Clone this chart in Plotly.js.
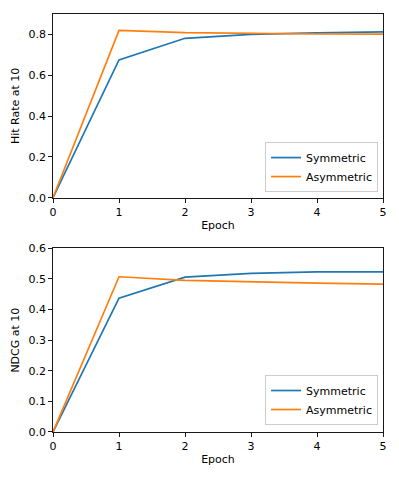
<!DOCTYPE html>
<html>
<head>
<meta charset="utf-8">
<script src="https://cdn.plot.ly/plotly-3.0.1.min.js"></script>
<style>
  html, body { margin: 0; padding: 0; background: #fff; }
  #chart { width: 399px; height: 478px; }
</style>
</head>
<body>
<div id="chart"></div>
<script>
// epochs and metric values
const epochs = [0, 1, 2, 3, 4, 5];
const hitSymmetric = [0, 0.675, 0.781, 0.800, 0.808, 0.812];
const hitAsymmetric = [0, 0.820, 0.809, 0.805, 0.802, 0.801];
const ndcgSymmetric = [0, 0.437, 0.506, 0.518, 0.523, 0.523];
const ndcgAsymmetric = [0, 0.507, 0.495, 0.490, 0.486, 0.483];
const seriesNames = ['Symmetric', 'Asymmetric'];
const hitTicks = [0, 0.2, 0.4, 0.6, 0.8];
const ndcgTicks = [0, 0.1, 0.2, 0.3, 0.4, 0.5, 0.6];

const blue = '#1f77b4';
const orange = '#ff7f0e';
const font = { family: 'DejaVu Sans', size: 11, color: '#000' };

function line( x, y, name, color, xaxis, yaxis, legend ){
	return {
		x, y, name,
		xaxis, yaxis, legend,
		type: 'scatter',
		mode: 'lines',
		line: { color, width: 1.7 },
		hoverinfo: 'skip',
	};
}

const data = [
	line(epochs, hitSymmetric, seriesNames[0], blue, 'x', 'y', 'legend'),
	line(epochs, hitAsymmetric, seriesNames[1], orange, 'x', 'y', 'legend'),
	line(epochs, ndcgSymmetric, seriesNames[0], blue, 'x2', 'y2', 'legend2'),
	line(epochs, ndcgAsymmetric, seriesNames[1], orange, 'x2', 'y2', 'legend2'),
];

// matplotlib-ish axis look
function axis( extra ){
	return Object.assign({
		showline: true,
		mirror: true,
		linecolor: '#000',
		linewidth: 0.9,
		ticks: 'outside',
		ticklen: 4,
		tickwidth: 0.9,
		tickcolor: '#000',
		showgrid: false,
		zeroline: false,
		tickfont: font,
		fixedrange: true,
	}, extra);
}

const legendStyle = {
	xref: 'paper', yref: 'paper',
	xanchor: 'right', yanchor: 'bottom',
	x: 0.985,
	bgcolor: 'rgba(255,255,255,0.8)',
	bordercolor: '#cccccc',
	borderwidth: 1,
	font,
	tracegroupgap: 0,
	itemwidth: 30,
};

const layout = {
	width: 399,
	height: 478,
	margin: { l: 53, r: 16, t: 14, b: 46 },
	paper_bgcolor: '#fff',
	plot_bgcolor: '#fff',
	font,
	showlegend: true,
	xaxis: axis({
		anchor: 'y', range: [0, 5], tickvals: epochs,
		title: { text: 'Epoch', font, standoff: 3 },
	}),
	yaxis: axis({
		domain: [0.5605, 1], range: [0, 0.9], tickvals: hitTicks, tickformat: '.1f',
		title: { text: 'Hit Rate at 10', font, standoff: 6 },
	}),
	xaxis2: axis({
		anchor: 'y2', range: [0, 5], tickvals: epochs,
		title: { text: 'Epoch', font, standoff: 3 },
	}),
	yaxis2: axis({
		domain: [0, 0.4395], range: [0, 0.6], tickvals: ndcgTicks, tickformat: '.1f',
		title: { text: 'NDCG at 10', font, standoff: 6 },
	}),
	legend: Object.assign({ y: 0.574 }, legendStyle),
	legend2: Object.assign({ y: 0.0167 }, legendStyle),
};

Plotly.newPlot('chart', data, layout, { displayModeBar: false, staticPlot: true });
</script>
</body>
</html>
